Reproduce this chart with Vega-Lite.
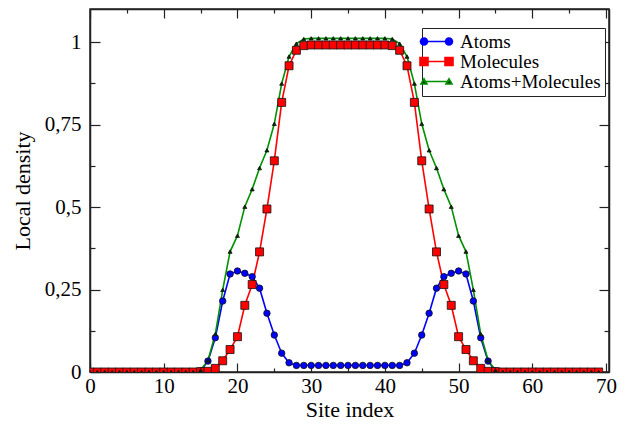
{
  "$schema": "https://vega.github.io/schema/vega-lite/v6.json",
  "width": 519,
  "height": 363,
  "autosize": "none",
  "padding": {"left": 90, "top": 9, "right": 24, "bottom": 53},
  "background": "white",
  "config": {
    "font": "'Liberation Serif', 'Times New Roman', Times, serif",
    "view": {"stroke": "#222", "strokeWidth": 1.5},
    "axis": {"grid": false, "domainColor": "#222", "domainWidth": 1.5, "tickColor": "#222", "tickWidth": 1.2, "labelColor": "black", "titleColor": "black", "labelFont": "'Liberation Serif', 'Times New Roman', Times, serif", "titleFont": "'Liberation Serif', 'Times New Roman', Times, serif", "labelFontSize": 21, "titleFontSize": 22, "titleFontWeight": "normal"},
    "legend": {"labelFont": "'Liberation Serif', 'Times New Roman', Times, serif", "labelFontSize": 19, "labelColor": "black"}
  },
  "data": {"values": [
    {"site":0,"series":"Atoms","value":0},{"site":1,"series":"Atoms","value":0},{"site":2,"series":"Atoms","value":0},{"site":3,"series":"Atoms","value":0},{"site":4,"series":"Atoms","value":0},{"site":5,"series":"Atoms","value":0},{"site":6,"series":"Atoms","value":0},{"site":7,"series":"Atoms","value":0},{"site":8,"series":"Atoms","value":0},{"site":9,"series":"Atoms","value":0},{"site":10,"series":"Atoms","value":0},{"site":11,"series":"Atoms","value":0},{"site":12,"series":"Atoms","value":0},{"site":13,"series":"Atoms","value":0},{"site":14,"series":"Atoms","value":0},{"site":15,"series":"Atoms","value":0.004},{"site":16,"series":"Atoms","value":0.033},{"site":17,"series":"Atoms","value":0.104},{"site":18,"series":"Atoms","value":0.215},{"site":19,"series":"Atoms","value":0.297},{"site":20,"series":"Atoms","value":0.306},{"site":21,"series":"Atoms","value":0.299},{"site":22,"series":"Atoms","value":0.289},{"site":23,"series":"Atoms","value":0.254},{"site":24,"series":"Atoms","value":0.178},{"site":25,"series":"Atoms","value":0.112},{"site":26,"series":"Atoms","value":0.057},{"site":27,"series":"Atoms","value":0.028},{"site":28,"series":"Atoms","value":0.02},{"site":29,"series":"Atoms","value":0.02},{"site":30,"series":"Atoms","value":0.02},{"site":31,"series":"Atoms","value":0.02},{"site":32,"series":"Atoms","value":0.02},{"site":33,"series":"Atoms","value":0.02},{"site":34,"series":"Atoms","value":0.02},{"site":35,"series":"Atoms","value":0.02},{"site":36,"series":"Atoms","value":0.02},{"site":37,"series":"Atoms","value":0.02},{"site":38,"series":"Atoms","value":0.02},{"site":39,"series":"Atoms","value":0.02},{"site":40,"series":"Atoms","value":0.02},{"site":41,"series":"Atoms","value":0.02},{"site":42,"series":"Atoms","value":0.02},{"site":43,"series":"Atoms","value":0.028},{"site":44,"series":"Atoms","value":0.057},{"site":45,"series":"Atoms","value":0.112},{"site":46,"series":"Atoms","value":0.178},{"site":47,"series":"Atoms","value":0.254},{"site":48,"series":"Atoms","value":0.289},{"site":49,"series":"Atoms","value":0.299},{"site":50,"series":"Atoms","value":0.306},{"site":51,"series":"Atoms","value":0.297},{"site":52,"series":"Atoms","value":0.215},{"site":53,"series":"Atoms","value":0.104},{"site":54,"series":"Atoms","value":0.033},{"site":55,"series":"Atoms","value":0.004},{"site":56,"series":"Atoms","value":0},{"site":57,"series":"Atoms","value":0},{"site":58,"series":"Atoms","value":0},{"site":59,"series":"Atoms","value":0},{"site":60,"series":"Atoms","value":0},{"site":61,"series":"Atoms","value":0},{"site":62,"series":"Atoms","value":0},{"site":63,"series":"Atoms","value":0},{"site":64,"series":"Atoms","value":0},{"site":65,"series":"Atoms","value":0},{"site":66,"series":"Atoms","value":0},{"site":67,"series":"Atoms","value":0},{"site":68,"series":"Atoms","value":0},{"site":69,"series":"Atoms","value":0},
    {"site":0,"series":"Molecules","value":0},{"site":1,"series":"Molecules","value":0},{"site":2,"series":"Molecules","value":0},{"site":3,"series":"Molecules","value":0},{"site":4,"series":"Molecules","value":0},{"site":5,"series":"Molecules","value":0},{"site":6,"series":"Molecules","value":0},{"site":7,"series":"Molecules","value":0},{"site":8,"series":"Molecules","value":0},{"site":9,"series":"Molecules","value":0},{"site":10,"series":"Molecules","value":0},{"site":11,"series":"Molecules","value":0},{"site":12,"series":"Molecules","value":0},{"site":13,"series":"Molecules","value":0},{"site":14,"series":"Molecules","value":0},{"site":15,"series":"Molecules","value":0.001},{"site":16,"series":"Molecules","value":0.002},{"site":17,"series":"Molecules","value":0.011},{"site":18,"series":"Molecules","value":0.034},{"site":19,"series":"Molecules","value":0.068},{"site":20,"series":"Molecules","value":0.107},{"site":21,"series":"Molecules","value":0.202},{"site":22,"series":"Molecules","value":0.265},{"site":23,"series":"Molecules","value":0.364},{"site":24,"series":"Molecules","value":0.494},{"site":25,"series":"Molecules","value":0.64},{"site":26,"series":"Molecules","value":0.817},{"site":27,"series":"Molecules","value":0.928},{"site":28,"series":"Molecules","value":0.975},{"site":29,"series":"Molecules","value":0.989},{"site":30,"series":"Molecules","value":0.991},{"site":31,"series":"Molecules","value":0.991},{"site":32,"series":"Molecules","value":0.991},{"site":33,"series":"Molecules","value":0.991},{"site":34,"series":"Molecules","value":0.991},{"site":35,"series":"Molecules","value":0.991},{"site":36,"series":"Molecules","value":0.991},{"site":37,"series":"Molecules","value":0.991},{"site":38,"series":"Molecules","value":0.991},{"site":39,"series":"Molecules","value":0.991},{"site":40,"series":"Molecules","value":0.991},{"site":41,"series":"Molecules","value":0.989},{"site":42,"series":"Molecules","value":0.975},{"site":43,"series":"Molecules","value":0.928},{"site":44,"series":"Molecules","value":0.817},{"site":45,"series":"Molecules","value":0.64},{"site":46,"series":"Molecules","value":0.494},{"site":47,"series":"Molecules","value":0.364},{"site":48,"series":"Molecules","value":0.265},{"site":49,"series":"Molecules","value":0.202},{"site":50,"series":"Molecules","value":0.107},{"site":51,"series":"Molecules","value":0.068},{"site":52,"series":"Molecules","value":0.034},{"site":53,"series":"Molecules","value":0.011},{"site":54,"series":"Molecules","value":0.002},{"site":55,"series":"Molecules","value":0.001},{"site":56,"series":"Molecules","value":0},{"site":57,"series":"Molecules","value":0},{"site":58,"series":"Molecules","value":0},{"site":59,"series":"Molecules","value":0},{"site":60,"series":"Molecules","value":0},{"site":61,"series":"Molecules","value":0},{"site":62,"series":"Molecules","value":0},{"site":63,"series":"Molecules","value":0},{"site":64,"series":"Molecules","value":0},{"site":65,"series":"Molecules","value":0},{"site":66,"series":"Molecules","value":0},{"site":67,"series":"Molecules","value":0},{"site":68,"series":"Molecules","value":0},{"site":69,"series":"Molecules","value":0},
    {"site":0,"series":"Atoms+Molecules","value":0},{"site":1,"series":"Atoms+Molecules","value":0},{"site":2,"series":"Atoms+Molecules","value":0},{"site":3,"series":"Atoms+Molecules","value":0},{"site":4,"series":"Atoms+Molecules","value":0},{"site":5,"series":"Atoms+Molecules","value":0},{"site":6,"series":"Atoms+Molecules","value":0},{"site":7,"series":"Atoms+Molecules","value":0},{"site":8,"series":"Atoms+Molecules","value":0},{"site":9,"series":"Atoms+Molecules","value":0},{"site":10,"series":"Atoms+Molecules","value":0},{"site":11,"series":"Atoms+Molecules","value":0},{"site":12,"series":"Atoms+Molecules","value":0},{"site":13,"series":"Atoms+Molecules","value":0},{"site":14,"series":"Atoms+Molecules","value":0},{"site":15,"series":"Atoms+Molecules","value":0.005},{"site":16,"series":"Atoms+Molecules","value":0.035},{"site":17,"series":"Atoms+Molecules","value":0.115},{"site":18,"series":"Atoms+Molecules","value":0.249},{"site":19,"series":"Atoms+Molecules","value":0.365},{"site":20,"series":"Atoms+Molecules","value":0.413},{"site":21,"series":"Atoms+Molecules","value":0.501},{"site":22,"series":"Atoms+Molecules","value":0.554},{"site":23,"series":"Atoms+Molecules","value":0.618},{"site":24,"series":"Atoms+Molecules","value":0.672},{"site":25,"series":"Atoms+Molecules","value":0.752},{"site":26,"series":"Atoms+Molecules","value":0.874},{"site":27,"series":"Atoms+Molecules","value":0.956},{"site":28,"series":"Atoms+Molecules","value":0.995},{"site":29,"series":"Atoms+Molecules","value":1.009},{"site":30,"series":"Atoms+Molecules","value":1.011},{"site":31,"series":"Atoms+Molecules","value":1.011},{"site":32,"series":"Atoms+Molecules","value":1.011},{"site":33,"series":"Atoms+Molecules","value":1.011},{"site":34,"series":"Atoms+Molecules","value":1.011},{"site":35,"series":"Atoms+Molecules","value":1.011},{"site":36,"series":"Atoms+Molecules","value":1.011},{"site":37,"series":"Atoms+Molecules","value":1.011},{"site":38,"series":"Atoms+Molecules","value":1.011},{"site":39,"series":"Atoms+Molecules","value":1.011},{"site":40,"series":"Atoms+Molecules","value":1.011},{"site":41,"series":"Atoms+Molecules","value":1.009},{"site":42,"series":"Atoms+Molecules","value":0.995},{"site":43,"series":"Atoms+Molecules","value":0.956},{"site":44,"series":"Atoms+Molecules","value":0.874},{"site":45,"series":"Atoms+Molecules","value":0.752},{"site":46,"series":"Atoms+Molecules","value":0.672},{"site":47,"series":"Atoms+Molecules","value":0.618},{"site":48,"series":"Atoms+Molecules","value":0.554},{"site":49,"series":"Atoms+Molecules","value":0.501},{"site":50,"series":"Atoms+Molecules","value":0.413},{"site":51,"series":"Atoms+Molecules","value":0.365},{"site":52,"series":"Atoms+Molecules","value":0.249},{"site":53,"series":"Atoms+Molecules","value":0.115},{"site":54,"series":"Atoms+Molecules","value":0.035},{"site":55,"series":"Atoms+Molecules","value":0.005},{"site":56,"series":"Atoms+Molecules","value":0},{"site":57,"series":"Atoms+Molecules","value":0},{"site":58,"series":"Atoms+Molecules","value":0},{"site":59,"series":"Atoms+Molecules","value":0},{"site":60,"series":"Atoms+Molecules","value":0},{"site":61,"series":"Atoms+Molecules","value":0},{"site":62,"series":"Atoms+Molecules","value":0},{"site":63,"series":"Atoms+Molecules","value":0},{"site":64,"series":"Atoms+Molecules","value":0},{"site":65,"series":"Atoms+Molecules","value":0},{"site":66,"series":"Atoms+Molecules","value":0},{"site":67,"series":"Atoms+Molecules","value":0},{"site":68,"series":"Atoms+Molecules","value":0},{"site":69,"series":"Atoms+Molecules","value":0}
  ]},
  "resolve": {"axis": {"x": "independent", "y": "independent"}},
  "layer": [
    {
      "mark": {"type": "line", "strokeWidth": 1.6, "clip": true},
      "encoding": {
        "x": {"field": "site", "type": "quantitative", "scale": {"domain": [0, 70.4], "nice": false, "zero": false},
          "axis": {"orient": "bottom", "title": "Site index", "values": [0,5,10,15,20,25,30,35,40,45,50,55,60,65,70], "format": "d",
            "labelExpr": "datum.value % 10 === 0 ? datum.label : ''",
            "tickSize": {"condition": {"test": "datum.value % 10 === 0", "value": -9}, "value": -4},
            "labelPadding": 12, "titlePadding": 3, "labelFlush": false}},
        "y": {"field": "value", "type": "quantitative", "scale": {"domain": [0, 1.1], "nice": false, "zero": false},
          "axis": {"orient": "left", "title": "Local density", "values": [0,0.125,0.25,0.375,0.5,0.625,0.75,0.875,1],
            "labelExpr": "abs(datum.value*4 - round(datum.value*4)) < 1e-6 ? replace(toString(datum.value), '.', ',') : ''",
            "tickSize": {"condition": {"test": "abs(datum.value*4 - round(datum.value*4)) < 1e-6", "value": -10}, "value": -5},
            "labelPadding": 19, "titlePadding": 10, "labelFlush": false}},
        "color": {"field": "series", "type": "nominal", "sort": ["Atoms", "Molecules", "Atoms+Molecules"],
          "scale": {"domain": ["Atoms", "Molecules", "Atoms+Molecules"], "range": ["#0000ff", "#ff0000", "#009000"]},
          "legend": {"title": null, "orient": "none", "legendX": 332, "legendY": 19, "direction": "vertical",
            "strokeColor": "#222", "fillColor": "white", "padding": 4, "rowPadding": -1, "symbolSize": 100, "symbolOffset": 1, "labelOffset": 14,
            "symbolStrokeWidth": 1.6,
            "encode": {"symbols": {"update": {
              "shape": {"signal": "datum.value === 'Atoms' ? 'M-2.5,0L2.5,0M-3.2,0A0.7,0.7 0 1,0 -1.8,0A0.7,0.7 0 1,0 -3.2,0ZM1.8,0A0.7,0.7 0 1,0 3.2,0A0.7,0.7 0 1,0 1.8,0Z' : datum.value === 'Molecules' ? 'M-2.5,0L2.5,0M-3.3,-0.8H-1.7V0.8H-3.3ZM1.7,-0.8H3.3V0.8H1.7Z' : 'M-2.5,0L2.5,0M-3.1,0.5L-2.5,-0.55L-1.9,0.5ZM1.9,0.5L2.5,-0.55L3.1,0.5Z'"},
              "fill": {"signal": "datum.value === 'Atoms' ? '#0000ff' : datum.value === 'Molecules' ? '#ff0000' : '#003000'"},
              "stroke": {"signal": "datum.value === 'Atoms' ? '#0000ff' : datum.value === 'Molecules' ? '#ff0000' : '#009000'"},
              "opacity": {"value": 1}, "fillOpacity": {"value": 1}
            }}}}}
      }
    },
    {
      "mark": {"type": "point", "filled": true, "stroke": "#111", "strokeWidth": 0.8, "opacity": 1, "clip": true},
      "encoding": {
        "x": {"field": "site", "type": "quantitative",
          "axis": {"orient": "top", "title": null, "labels": false, "values": [0,5,10,15,20,25,30,35,40,45,50,55,60,65,70],
            "tickSize": {"condition": {"test": "datum.value % 10 === 0", "value": -9}, "value": -4}}},
        "y": {"field": "value", "type": "quantitative",
          "axis": {"orient": "right", "title": null, "labels": false, "values": [0,0.125,0.25,0.375,0.5,0.625,0.75,0.875,1],
            "tickSize": {"condition": {"test": "abs(datum.value*4 - round(datum.value*4)) < 1e-6", "value": -10}, "value": -5}}},
        "fill": {"condition": [{"test": "datum.series === 'Atoms'", "value": "#0000ff"}, {"test": "datum.series === 'Molecules'", "value": "#ff0000"}], "value": "#003000"},
        "shape": {"condition": [{"test": "datum.series === 'Atoms'", "value": "circle"}, {"test": "datum.series === 'Molecules'", "value": "square"}], "value": "triangle-up"},
        "size": {"condition": [{"test": "datum.series === 'Atoms'", "value": 42}, {"test": "datum.series === 'Molecules'", "value": 64}], "value": 16}
      }
    }
  ]
}
